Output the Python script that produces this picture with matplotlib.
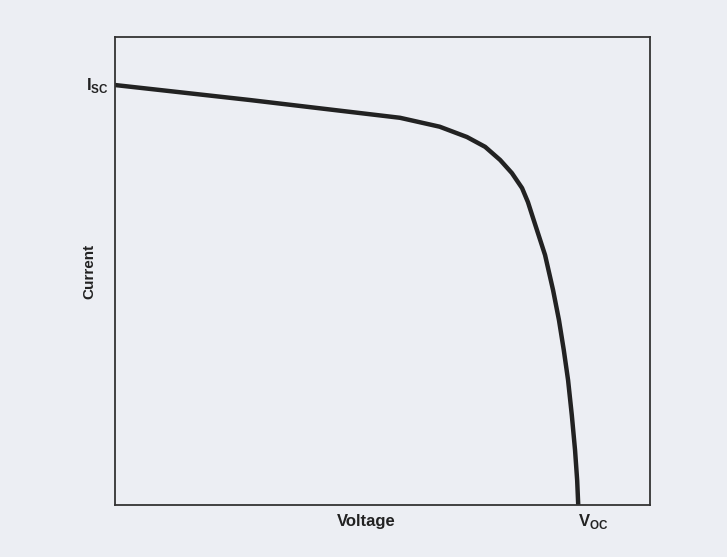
import matplotlib.pyplot as plt

# I-V curve of a solar cell, normalised units
voltage = [0.0, 0.252, 0.533, 0.607, 0.658, 0.692, 0.720, 0.742, 0.761, 0.772,
           0.781, 0.804, 0.819, 0.830, 0.839, 0.847, 0.854, 0.860, 0.864, 0.866]
current = [0.897, 0.865, 0.827, 0.808, 0.786, 0.765, 0.737, 0.709, 0.677, 0.647,
           0.615, 0.534, 0.459, 0.395, 0.331, 0.267, 0.192, 0.118, 0.053, 0.0]

isc = current[0]
voc = voltage[-1]

plt.rcParams['font.family'] = ['Liberation Sans', 'DejaVu Sans']
plt.rcParams['mathtext.fontset'] = 'custom'
plt.rcParams['mathtext.bf'] = 'Liberation Sans:bold'
plt.rcParams['mathtext.rm'] = 'Liberation Sans:bold'

bg = '#eceef3'
fig = plt.figure(figsize=(7.27, 5.57), dpi=100, facecolor=bg)
ax = fig.add_axes([0.158, 0.093, 0.736, 0.841], facecolor=bg)

ax.plot(voltage, current, color='#222222', linewidth=3.2,
        solid_joinstyle='round', solid_capstyle='butt')

ax.set_xlim(0, 1)
ax.set_ylim(0, 1)
ax.set_xticks([])
ax.set_yticks([])
for s in ax.spines.values():
    s.set_linewidth(1.3)
    s.set_color('#333333')

ax.set_xlabel('Voltage', fontsize=12, fontweight='bold', color='#222222')
ax.xaxis.set_label_coords(0.47, -0.018)
ax.xaxis.label.set_va('top')
ax.set_ylabel('Current', fontsize=11, fontweight='bold', color='#222222')
ax.yaxis.set_label_coords(-0.035, 0.5)

ax.text(-0.012, isc, r'$\mathrm{I}_{\mathrm{SC}}$', transform=ax.transAxes,
        ha='right', va='center', fontsize=12, color='#222222')
ax.text(voc, -0.015, r'$\mathrm{V}_{\mathrm{OC}}$', transform=ax.transAxes,
        ha='left', va='top', fontsize=12, color='#222222')

plt.savefig('out.png', dpi=100, facecolor=bg)
